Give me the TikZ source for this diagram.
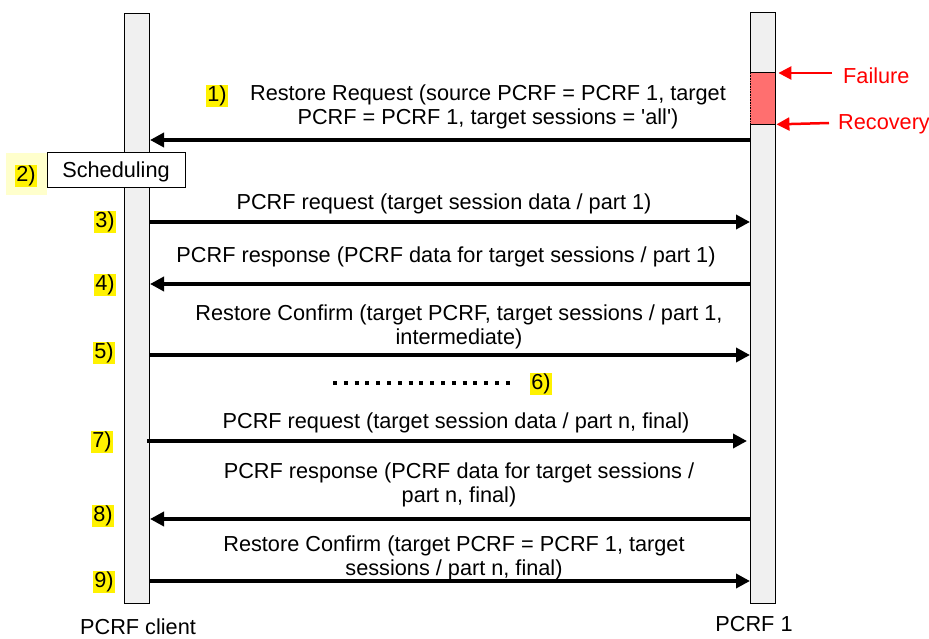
\documentclass[tikz,border=0pt]{standalone}
\usepackage{fontspec}
\setmainfont{Liberation Sans}
\usetikzlibrary{arrows.meta}
\definecolor{barfill}{HTML}{F0F0F0}
\definecolor{failred}{HTML}{FF6F6F}
\definecolor{paleyel}{HTML}{FFFFCC}
\begin{document}
\begin{tikzpicture}[x=1pt,y=-1pt,
  bar/.style={draw, fill=barfill, line width=1pt, minimum width=25pt, inner sep=0pt, anchor=north west},
  msg/.style={line width=3.5pt, -{Triangle[length=14pt,width=14pt]}},
  redarr/.style={red, line width=2.5pt, -{Triangle[length=13pt,width=13pt]}},
  lbl/.style={font=\fontsize{21.7}{24}\selectfont, align=center, inner sep=0pt},
  num/.style={font=\fontsize{21.7}{24}\selectfont, fill=yellow, inner sep=1pt}]
\useasboundingbox (0,0) rectangle (929,639);
% lifelines
\node[bar, minimum height=590pt] (lc) at (124,13) {};
\node[bar, minimum height=591pt] (rc) at (750,12) {};
% failure region
\node[fill=failred, minimum width=25pt, minimum height=51pt, inner sep=0pt, anchor=north west] (fail) at (750,73) {};
\draw[line width=0.6pt, densely dotted] (fail.north west) -- (fail.south west) (fail.north east) -- (fail.south east);
\draw[line width=1pt] (fail.north west) -- (fail.north east) (fail.south west) -- (fail.south east);
\node[lbl, text=red, anchor=west] (failtxt) at (843,76) {Failure};
\node[lbl, text=red, anchor=west] (rectxt) at (838,124) {Recovery};
\coordinate (fa) at (832,73);
\coordinate (ra) at (829,123);
\draw[redarr] (fa) -- ([xshift=3pt]fail.north east);
\draw[redarr] (ra) -- ([xshift=1pt]fail.south east);
% message rows
\coordinate (y1) at (0,140);
\coordinate (y3) at (0,222);
\coordinate (y4) at (0,284);
\coordinate (y5) at (0,355);
\coordinate (y7) at (0,441);
\coordinate (y8) at (0,519);
\coordinate (y9) at (0,581);
% 1
\node[num] (n1) at (217,96) {1)};
\node[lbl] (l1) at (488,107) {Restore Request (source PCRF = PCRF 1, target\\PCRF = PCRF 1, target sessions = \textquotesingle all\textquotesingle)};
\draw[msg] (rc.west |- y1) -- (lc.east |- y1);
% 2
\fill[paleyel] (6,153) rectangle (47,195);
\node[num] (n2) at (26,176) {2)};
\node[draw, fill=white, line width=1pt, minimum width=138pt, minimum height=35pt, inner sep=0pt, text height=18pt, text depth=3pt, font=\fontsize{21.7}{24}\selectfont] (sched) at (116,170) {Scheduling};
% 3
\node[num] (n3) at (105,222) {3)};
\node[lbl] (l3) at (444,204) {PCRF request (target session data / part 1)};
\draw[msg] (lc.east |- y3) -- (rc.west |- y3);
% 4
\node[num] (n4) at (105,285) {4)};
\node[lbl] (l4) at (446,257) {PCRF response (PCRF data for target sessions / part 1)};
\draw[msg] (rc.west |- y4) -- (lc.east |- y4);
% 5
\node[num] (n5) at (104,353) {5)};
\node[lbl] (l5) at (459,327) {Restore Confirm (target PCRF, target sessions / part 1,\\intermediate)};
\draw[msg] (lc.east |- y5) -- (rc.west |- y5);
% 6
\coordinate (d1) at (333,383);
\coordinate (d2) at (516,383);
\draw[line width=4pt, dash pattern=on 4pt off 6.8pt] (d1) -- (d2);
\node[num] (n6) at (541,384) {6)};
% 7
\node[num] (n7) at (102,442) {7)};
\node[lbl] (l7) at (456,423) {PCRF request (target session data / part n, final)};
\draw[msg] ([xshift=-3pt]lc.east |- y7) -- ([xshift=-3pt]rc.west |- y7);
% 8
\node[num] (n8) at (103,516) {8)};
\node[lbl] (l8) at (459,485) {PCRF response (PCRF data for target sessions /\\part n, final)};
\draw[msg] (rc.west |- y8) -- (lc.east |- y8);
% 9
\node[num] (n9) at (104,582) {9)};
\node[lbl] (l9) at (454,558) {Restore Confirm (target PCRF = PCRF 1, target\\sessions / part n, final)};
\draw[msg] (lc.east |- y9) -- (rc.west |- y9);
% names
\node[lbl] (cname) at (138,627) {PCRF client};
\node[lbl] (pname) at (754,624) {PCRF 1};
\end{tikzpicture}
\end{document}
